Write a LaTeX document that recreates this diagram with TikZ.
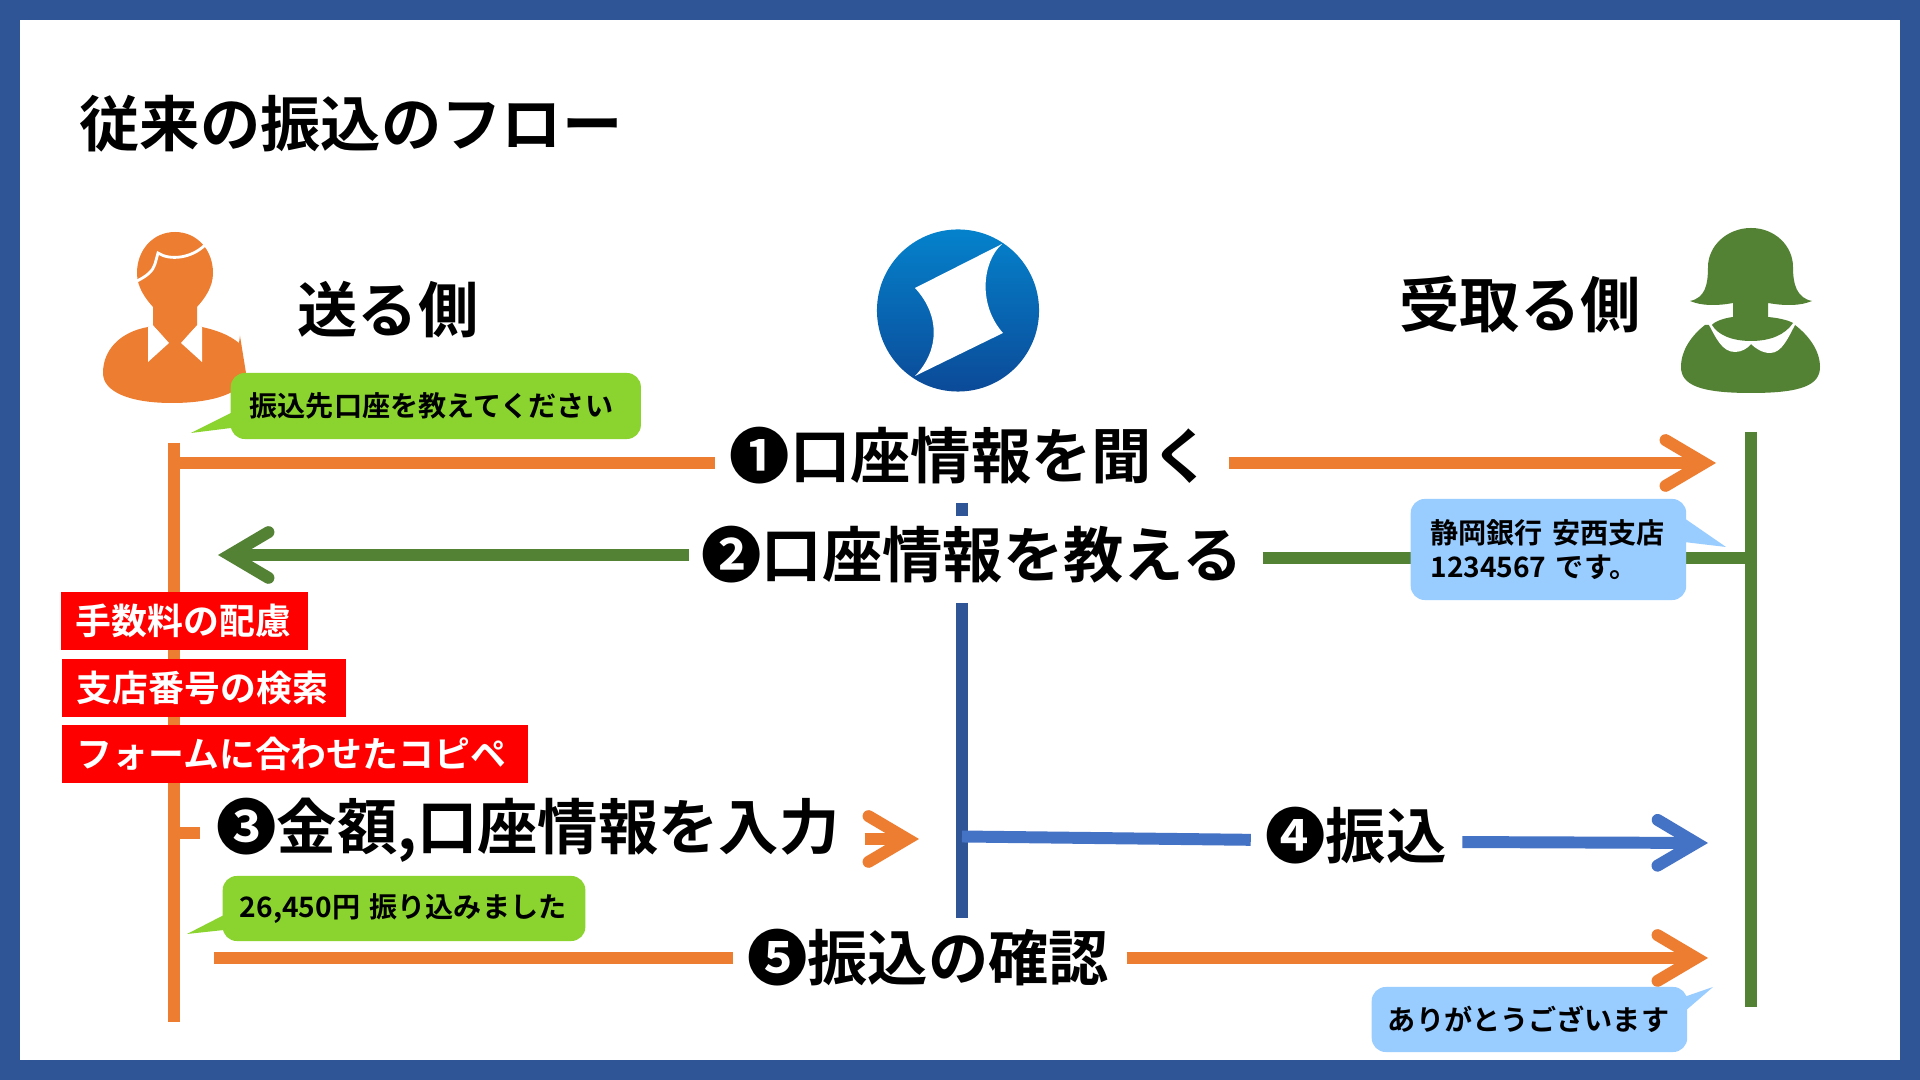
\documentclass[tikz,border=0pt]{standalone}
\usepackage{fontspec}
\setmainfont{Noto Sans CJK JP}[BoldFont={Noto Sans CJK JP Bold}]
\usetikzlibrary{arrows.meta, calc}
\definecolor{framec}{HTML}{2F5597}
\definecolor{orangec}{HTML}{ED7D31}
\definecolor{greenc}{HTML}{548235}
\definecolor{bluec}{HTML}{4472C4}
\definecolor{limec}{HTML}{8BD42F}
\definecolor{skyc}{HTML}{99CCFF}
\definecolor{redc}{HTML}{FF0000}
\definecolor{logotop}{HTML}{0582CC}
\definecolor{logobot}{HTML}{0B4A98}

\begin{document}
\begin{tikzpicture} [x=0.01cm, y=-0.01cm, align=center,
    bigtext/.style={inner sep=0pt, font=\fontsize{17.15}{20}\selectfont\bfseries},
    redbox/.style={anchor=west, fill=redc, text=white, inner sep=0pt, minimum height=0.58cm,
        text width=#1, align=left, font=\fontsize{10.2}{12}\selectfont\bfseries},
    bubble/.style={anchor=west, rounded corners=4pt, inner sep=0pt, align=left, text width=#1,
        font=\fontsize{8}{9.7}\selectfont\bfseries},
    lifeline/.style={line width=3.4pt},
    flowline/.style={line width=3.4pt},
    flowarrow/.style={line width=3.4pt, -{Straight Barb[length=11pt, width=13pt, line cap=round, line join=miter]}}]
\useasboundingbox (0,0) rectangle (1920,1080);
\fill[framec] (0,0) rectangle (1920,1080);
\fill[white] (20,20) rectangle (1900,1060);

\path (351,124) node[bigtext] (title) {従来の振込のフロー}
      (388,310) node[bigtext] (send) {送る側}
      (1520,304) node[bigtext] (recv) {受取る側}
      (958,310.5) node[circle, inner sep=0pt, minimum size=1.62cm, top color=logotop, bottom color=logobot] (logo) {}

      (971,456) node[bigtext] (q1) {❶口座情報を聞く}
      (972,555) node[bigtext] (q2) {❷口座情報を教える}
      (528,830) node[bigtext] (q3) {❸金額,口座情報を入力}
      (1356,836) node[bigtext] (q4) {❹振込}
      (928,958) node[bigtext] (q5) {❺振込の確認};

\fill[white] (915,288) -- (1002,244) .. controls (982,262) and (978,305) .. (1003,333)
      -- (915,376) .. controls (940,350) and (940,315) .. (915,288) -- cycle;

\coordinate (ltop) at (174,443);
\coordinate (lbot) at (174,1022);
\coordinate (rtop) at (1751,432);
\coordinate (rbot) at (1751,1007);
\coordinate (btop) at (962,503);
\coordinate (bmid) at (962,516);
\coordinate (blow) at (962,603);
\coordinate (bbot) at (962,918);

\coordinate (a1s) at (174,463);
\coordinate (a1e) at (1716,463);
\coordinate (a2e) at (218,555);
\coordinate (a2s) at (688,555);
\coordinate (a2r) at (1751,558);
\coordinate (a3s) at (174,833);
\coordinate (a3m) at (859,839);
\coordinate (a3e) at (919,839);
\coordinate (a4s) at (962,836.5);
\coordinate (a4m) at (1252,840);
\coordinate (a4n) at (1462,842);
\coordinate (a4e) at (1708,843);
\coordinate (a5s) at (214,958);
\coordinate (a5e) at (1708,958);

% sender figure
\fill[orangec] (148,327) .. controls (120,332) and (103,350) .. (103,373) .. controls (103,392) and (130,403) .. (172,403)
      .. controls (215,403) and (246,392) .. (246,373) -- (240,336) -- (239,343) .. controls (228,334) and (215,330) .. (202,327) -- cycle;
\fill[white] (148,327) -- (153,325) -- (169,343) -- (148,362) -- cycle;
\fill[white] (202,327) -- (197,325) -- (181,343) -- (202,362) -- cycle;
\fill[orangec] (175,232) .. controls (197,232) and (213,250) .. (213,273) .. controls (213,287) and (205,298) .. (197,307)
      -- (197,325) -- (175,348) -- (153,325) -- (153,307) .. controls (145,298) and (137,287) .. (137,273)
      .. controls (137,250) and (153,232) .. (175,232) -- cycle;
\draw[white, line width=0.8pt] (137,281) .. controls (147,276) and (153,271) .. (155,264) -- (158,253)
      .. controls (170,261) and (192,258) .. (205,245);

% receiver figure
\fill[greenc] (1705,325) .. controls (1692,335) and (1681,350) .. (1681,367) .. controls (1681,385) and (1700,393) .. (1751,393)
      .. controls (1802,393) and (1820,385) .. (1820,367) .. controls (1820,350) and (1808,335) .. (1795,325) -- cycle;
\fill[white] (1708,323) .. controls (1716,338) and (1722,352) .. (1735,352) .. controls (1742,352) and (1748,348) .. (1751,344)
      .. controls (1755,348) and (1762,353) .. (1770,353) .. controls (1782,353) and (1788,338) .. (1796,323) -- cycle;
\fill[greenc] (1751,228) .. controls (1775,228) and (1793,246) .. (1793,267) .. controls (1793,285) and (1797,298) .. (1812,301)
      .. controls (1800,306) and (1785,306) .. (1768,303) -- (1768,317) .. controls (1780,318) and (1790,321) .. (1793,323)
      .. controls (1785,335) and (1770,341) .. (1751,341) .. controls (1732,341) and (1718,335) .. (1712,325)
      .. controls (1715,321) and (1725,318) .. (1733,317) -- (1733,303) .. controls (1717,306) and (1702,306) .. (1690,301)
      .. controls (1705,298) and (1708,285) .. (1708,267) .. controls (1708,246) and (1727,228) .. (1751,228) -- cycle;

\draw[lifeline, framec] (btop) -- (bmid);
\draw[lifeline, framec] (blow) -- (bbot);
\draw[lifeline, orangec] (ltop) -- (lbot);
\draw[lifeline, greenc] (rtop) -- (rbot);

\draw[flowline, orangec, shorten >=3.9pt] (a1s) -- (a1s -| q1.west);
\draw[flowarrow, orangec, shorten <=4.7pt] (a1e -| q1.east) -- (a1e);
\draw[flowarrow, greenc, shorten <=3.5pt] (a2s -| q2.west) -- (a2e);
\draw[flowline, greenc, shorten <=5.5pt] (a2r -| q2.east) -- (a2r);
\draw[flowline, orangec, shorten >=4.5pt] (a3s) -- (a3s -| q3.west);
\draw[flowarrow, orangec, shorten <=7pt] (a3m -| q3.east) -- (a3e);
\draw[flowline, bluec, shorten >=4pt] (a4s) -- (a4m -| q4.west);
\draw[flowarrow, bluec, shorten <=4.3pt] (a4n -| q4.east) -- (a4e);
\draw[flowline, orangec, shorten >=3.7pt] (a5s) -- (a5s -| q5.west);
\draw[flowarrow, orangec, shorten <=4.8pt] (a5e -| q5.east) -- (a5e);

\fill[limec] (231,413) -- (191,433) -- (231,428) -- cycle;
\fill[limec] (224,915) -- (187,934) -- (224,930) -- cycle;
\fill[skyc] (1684,518) -- (1726,547) -- (1684,542) -- cycle;
\fill[skyc] (1684,997) -- (1713,987) -- (1684,1012) -- cycle;

\path (230,406) node[bubble=3.72cm, fill=limec, inner xsep=5.4pt, minimum height=0.66cm] (b1) {振込先口座を教えてください}
      (222,908.5) node[bubble=3.28cm, fill=limec, inner xsep=4.9pt, minimum height=0.65cm] (b2) {26,450円 振り込みました}
      (1410,549.5) node[bubble=2.36cm, fill=skyc, inner xsep=5.6pt, minimum height=1.01cm] (b3) {静岡銀行 安西支店\\1234567 です。}
      (1371,1019.5) node[bubble=2.83cm, fill=skyc, inner xsep=4.6pt, minimum height=0.65cm] (b4) {ありがとうございます}

      (60,621) node[redbox=2.17cm, inner xsep=4.3pt, minimum width=2.47cm] (r1) {手数料の配慮}
      (61,688) node[redbox=2.54cm, inner xsep=4.3pt, minimum width=2.84cm] (r2) {支店番号の検索}
      (61,754) node[redbox=4.36cm, inner xsep=4.3pt, minimum width=4.66cm] (r3) {フォームに合わせたコピペ};

\end{tikzpicture}
\end{document}
